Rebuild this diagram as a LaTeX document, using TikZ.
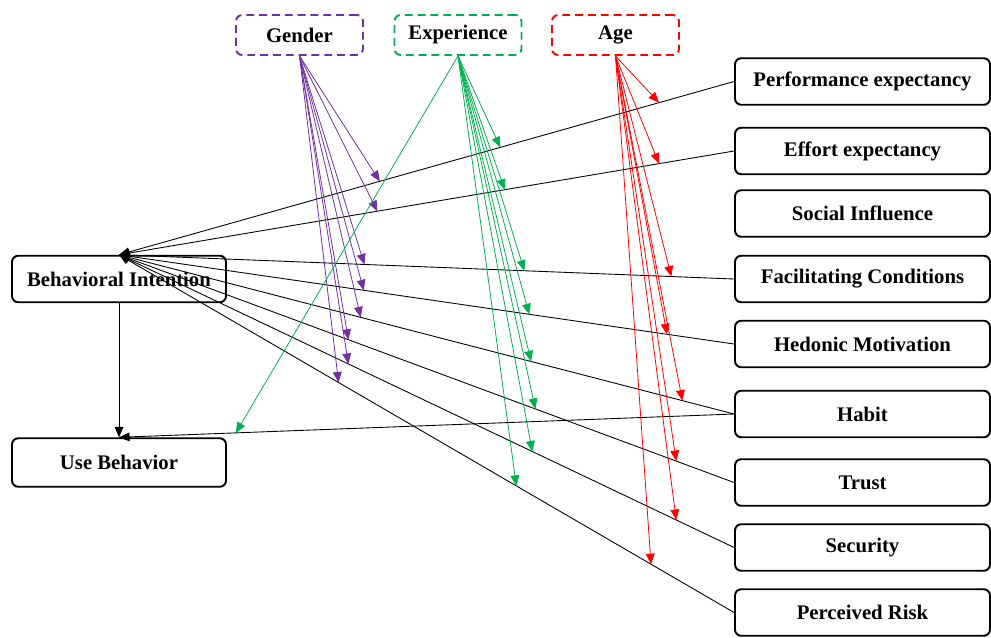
\documentclass[tikz,border=0pt]{standalone}
\usepackage{fontspec}
\setmainfont{Liberation Serif}
\usetikzlibrary{arrows.meta,calc}
\definecolor{gpurple}{RGB}{112,48,160}
\definecolor{ggreen}{RGB}{0,176,80}
\definecolor{gred}{RGB}{255,0,0}
\begin{document}
\begin{tikzpicture}[x=0.02cm,y=-0.02cm,
  box/.style={draw, line width=1.1pt, rounded corners=3.5pt, font=\bfseries\fontsize{11.8}{14}\selectfont, minimum height=0.93cm, inner sep=0pt},
  cbox/.style={box, minimum width=5.1cm},
  lbox/.style={box, minimum width=4.28cm},
  mbox/.style={box, dash pattern=on 4.5pt off 2.8pt, minimum width=2.54cm, minimum height=0.8cm},
  link/.style={line width=0.5pt, -{Triangle[length=6pt,width=5pt]}},
  modlink/.style={line width=0.45pt, -{Triangle[length=6pt,width=5pt]}},
]
\useasboundingbox (0,0) rectangle (991,637);

% moderators
\node[mbox, gpurple, text=black] (gen) at (299.5,35) {Gender};
\node[mbox, ggreen, text=black] (exp) at (458,35) {Experience};
\node[mbox, gred, text=black] (age) at (615.5,35) {Age};

% constructs
\node[cbox] (pe)  at (862.5,81.5) {Performance expectancy};
\node[cbox] (ee)  at (862.5,151)  {Effort expectancy};
\node[cbox] (si)  at (862.5,213.5){Social Influence};
\node[cbox] (fc)  at (862.5,279)  {Facilitating Conditions};
\node[cbox] (hm)  at (862.5,344)  {Hedonic Motivation};
\node[cbox] (hab) at (862.5,414)  {Habit};
\node[cbox] (tru) at (862.5,482.5){Trust};
\node[cbox] (sec) at (862.5,547.5){Security};
\node[cbox] (pr)  at (862.5,612.5){Perceived Risk};

\node[lbox] (bi) at (119,279)   {Behavioral Intention};
\node[lbox, minimum height=0.97cm] (ub) at (119,462.5) {Use Behavior};

% main paths
\foreach \n in {pe,ee,fc,hm,hab,tru,sec,pr}
  \draw[link] (\n.west) -- (bi.north);
\draw[link] (bi.south) -- (ub.north);
\draw[link] (hab.west) -- (ub.north);

% Gender moderation
\foreach \n/\t in {pe/0.424,ee/0.420,fc/0.399,hm/0.398,hab/0.393,tru/0.373,sec/0.373,pr/0.357}
  \draw[modlink, gpurple] (gen.south) -- ($(bi.north)!\t!(\n.west)$);

% Experience moderation
\foreach \n/\t in {pe/0.620,ee/0.627,fc/0.659,hm/0.667,hab/0.670,tru/0.677,sec/0.672,pr/0.646}
  \draw[modlink, ggreen] (exp.south) -- ($(bi.north)!\t!(\n.west)$);
\draw[modlink, ggreen] (exp.south) -- ($(ub.north)!0.19!(hab.west)$);

% Age moderation
\foreach \n/\t in {pe/0.878,ee/0.878,fc/0.898,hm/0.891,hab/0.916,tru/0.906,sec/0.906,pr/0.865}
  \draw[modlink, gred] (age.south) -- ($(bi.north)!\t!(\n.west)$);
\end{tikzpicture}
\end{document}
